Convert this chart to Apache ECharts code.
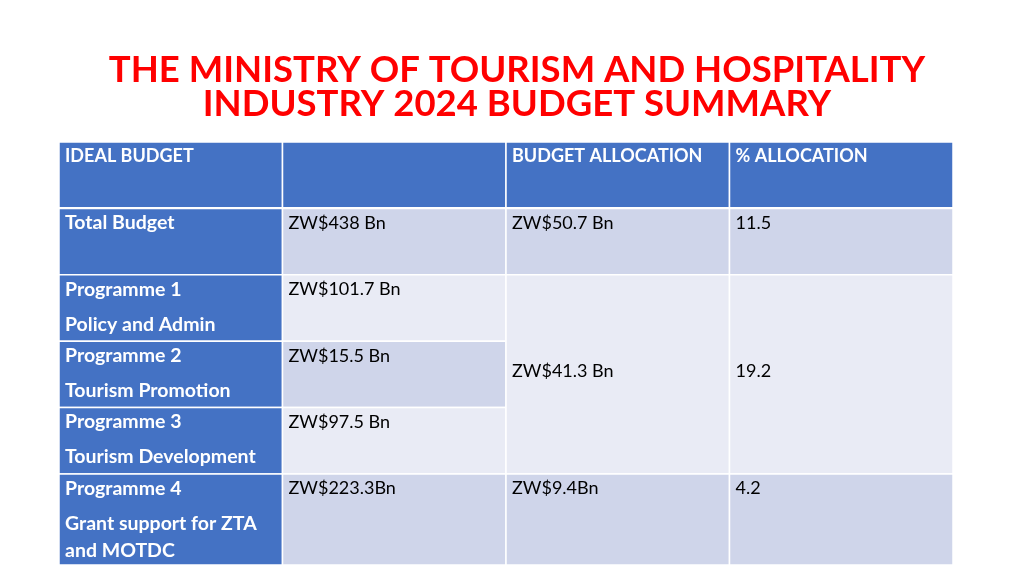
<!DOCTYPE html>
<html>
<head>
<meta charset="utf-8">
<script src="https://cdn.jsdelivr.net/npm/echarts@6/dist/echarts.min.js"></script>
<style>
  html, body { margin: 0; padding: 0; background: #fff; }
  #main { width: 1024px; height: 576px; }
</style>
</head>
<body>
<div id="main"></div>
<script>
// table content
var headers = ['IDEAL BUDGET', '', 'BUDGET ALLOCATION', '% ALLOCATION'];
var rowLabels = [
  ['Total Budget'],
  ['Programme 1', 'Policy and Admin'],
  ['Programme 2', 'Tourism Promotion'],
  ['Programme 3', 'Tourism Development'],
  ['Programme 4', 'Grant support for ZTA\nand MOTDC']
];
var idealBudget = ['ZW$438 Bn', 'ZW$101.7 Bn', 'ZW$15.5 Bn', 'ZW$97.5 Bn', 'ZW$223.3Bn'];
var allocation = ['ZW$50.7 Bn', 'ZW$41.3 Bn', 'ZW$9.4Bn'];
var allocationPct = ['11.5', '19.2', '4.2'];
var allocationRows = [[0, 0], [1, 3], [4, 4]]; // first and last body row of each allocation cell

// row edges in row units (header is row 0, last row is taller)
var rowEdges = [0, 1, 2, 3, 4, 5, 6.37];

var BLUE = '#4472C4', DARK = '#CFD5EA', LIGHT = '#E9EBF5';
var FONT = 'Lato';

var cells = [];
headers.forEach(function (h, c) {
  cells.push({ c0: c, c1: c + 1, r0: 0, r1: 1, fill: BLUE, lines: [h], bold: true, size: 18, color: '#fff' });
});
rowLabels.forEach(function (lab, i) {
  var band = i % 2 === 0 ? DARK : LIGHT;
  cells.push({ c0: 0, c1: 1, r0: i + 1, r1: i + 2, fill: BLUE, lines: lab, bold: true, size: 19.5, color: '#fff' });
  cells.push({ c0: 1, c1: 2, r0: i + 1, r1: i + 2, fill: band, lines: [idealBudget[i]], bold: false, size: 18, color: '#000' });
});
allocationRows.forEach(function (span, j) {
  var band = span[0] % 2 === 0 ? DARK : LIGHT;
  var mid = span[1] > span[0];
  cells.push({ c0: 2, c1: 3, r0: span[0] + 1, r1: span[1] + 2, fill: band, lines: [allocation[j]], bold: false, size: 18, color: '#000', mid: mid });
  cells.push({ c0: 3, c1: 4, r0: span[0] + 1, r1: span[1] + 2, fill: band, lines: [allocationPct[j]], bold: false, size: 18, color: '#000', mid: mid });
});

var chart = echarts.init(document.getElementById('main'));

function renderCell(params, api) {
  var cell = cells[params.dataIndex];
  var p0 = api.coord([api.value(0), api.value(2)]);
  var p1 = api.coord([api.value(1), api.value(3)]);
  var x = p0[0], y = p0[1], w = p1[0] - p0[0], h = p1[1] - p0[1];
  var children = [{
    type: 'rect',
    shape: { x: x, y: y, width: w, height: h },
    style: { fill: cell.fill, stroke: '#fff', lineWidth: 1.5 }
  }];
  cell.lines.forEach(function (t, k) {
    children.push({
      type: 'text',
      style: {
        x: x + 6,
        y: cell.mid ? y + h / 2 - 3 : y + 1 + k * 35,
        text: t,
        fill: cell.color,
        font: (cell.bold ? 'bold ' : '') + cell.size + 'px ' + FONT,
        lineHeight: 27,
        textAlign: 'left',
        textVerticalAlign: cell.mid ? 'middle' : 'top'
      }
    });
  });
  if (cell.r0 === 0) {
    children.push({
      type: 'line',
      shape: { x1: x, y1: y + h, x2: x + w, y2: y + h },
      style: { stroke: '#fff', lineWidth: 3 }
    });
  }
  return { type: 'group', children: children };
}

chart.setOption({
  backgroundColor: '#fff',
  animation: false,
  title: {
    text: 'THE MINISTRY OF TOURISM AND HOSPITALITY\nINDUSTRY 2024 BUDGET SUMMARY',
    left: 512,
    top: 48,
    textAlign: 'center',
    textStyle: {
      color: '#FF0000',
      fontFamily: FONT,
      fontWeight: 'bold',
      fontSize: 36.5,
      lineHeight: 34
    }
  },
  grid: { left: 59, right: 71, top: 142, bottom: 11 },
  xAxis: { type: 'value', min: 0, max: 4, show: false },
  yAxis: { type: 'value', min: 0, max: rowEdges[rowEdges.length - 1], inverse: true, show: false },
  series: [{
    type: 'custom',
    renderItem: renderCell,
    encode: { x: [0, 1], y: [2, 3] },
    data: cells.map(function (c) {
      return [c.c0, c.c1, rowEdges[c.r0], rowEdges[c.r1]];
    })
  }]
});
</script>
</body>
</html>
